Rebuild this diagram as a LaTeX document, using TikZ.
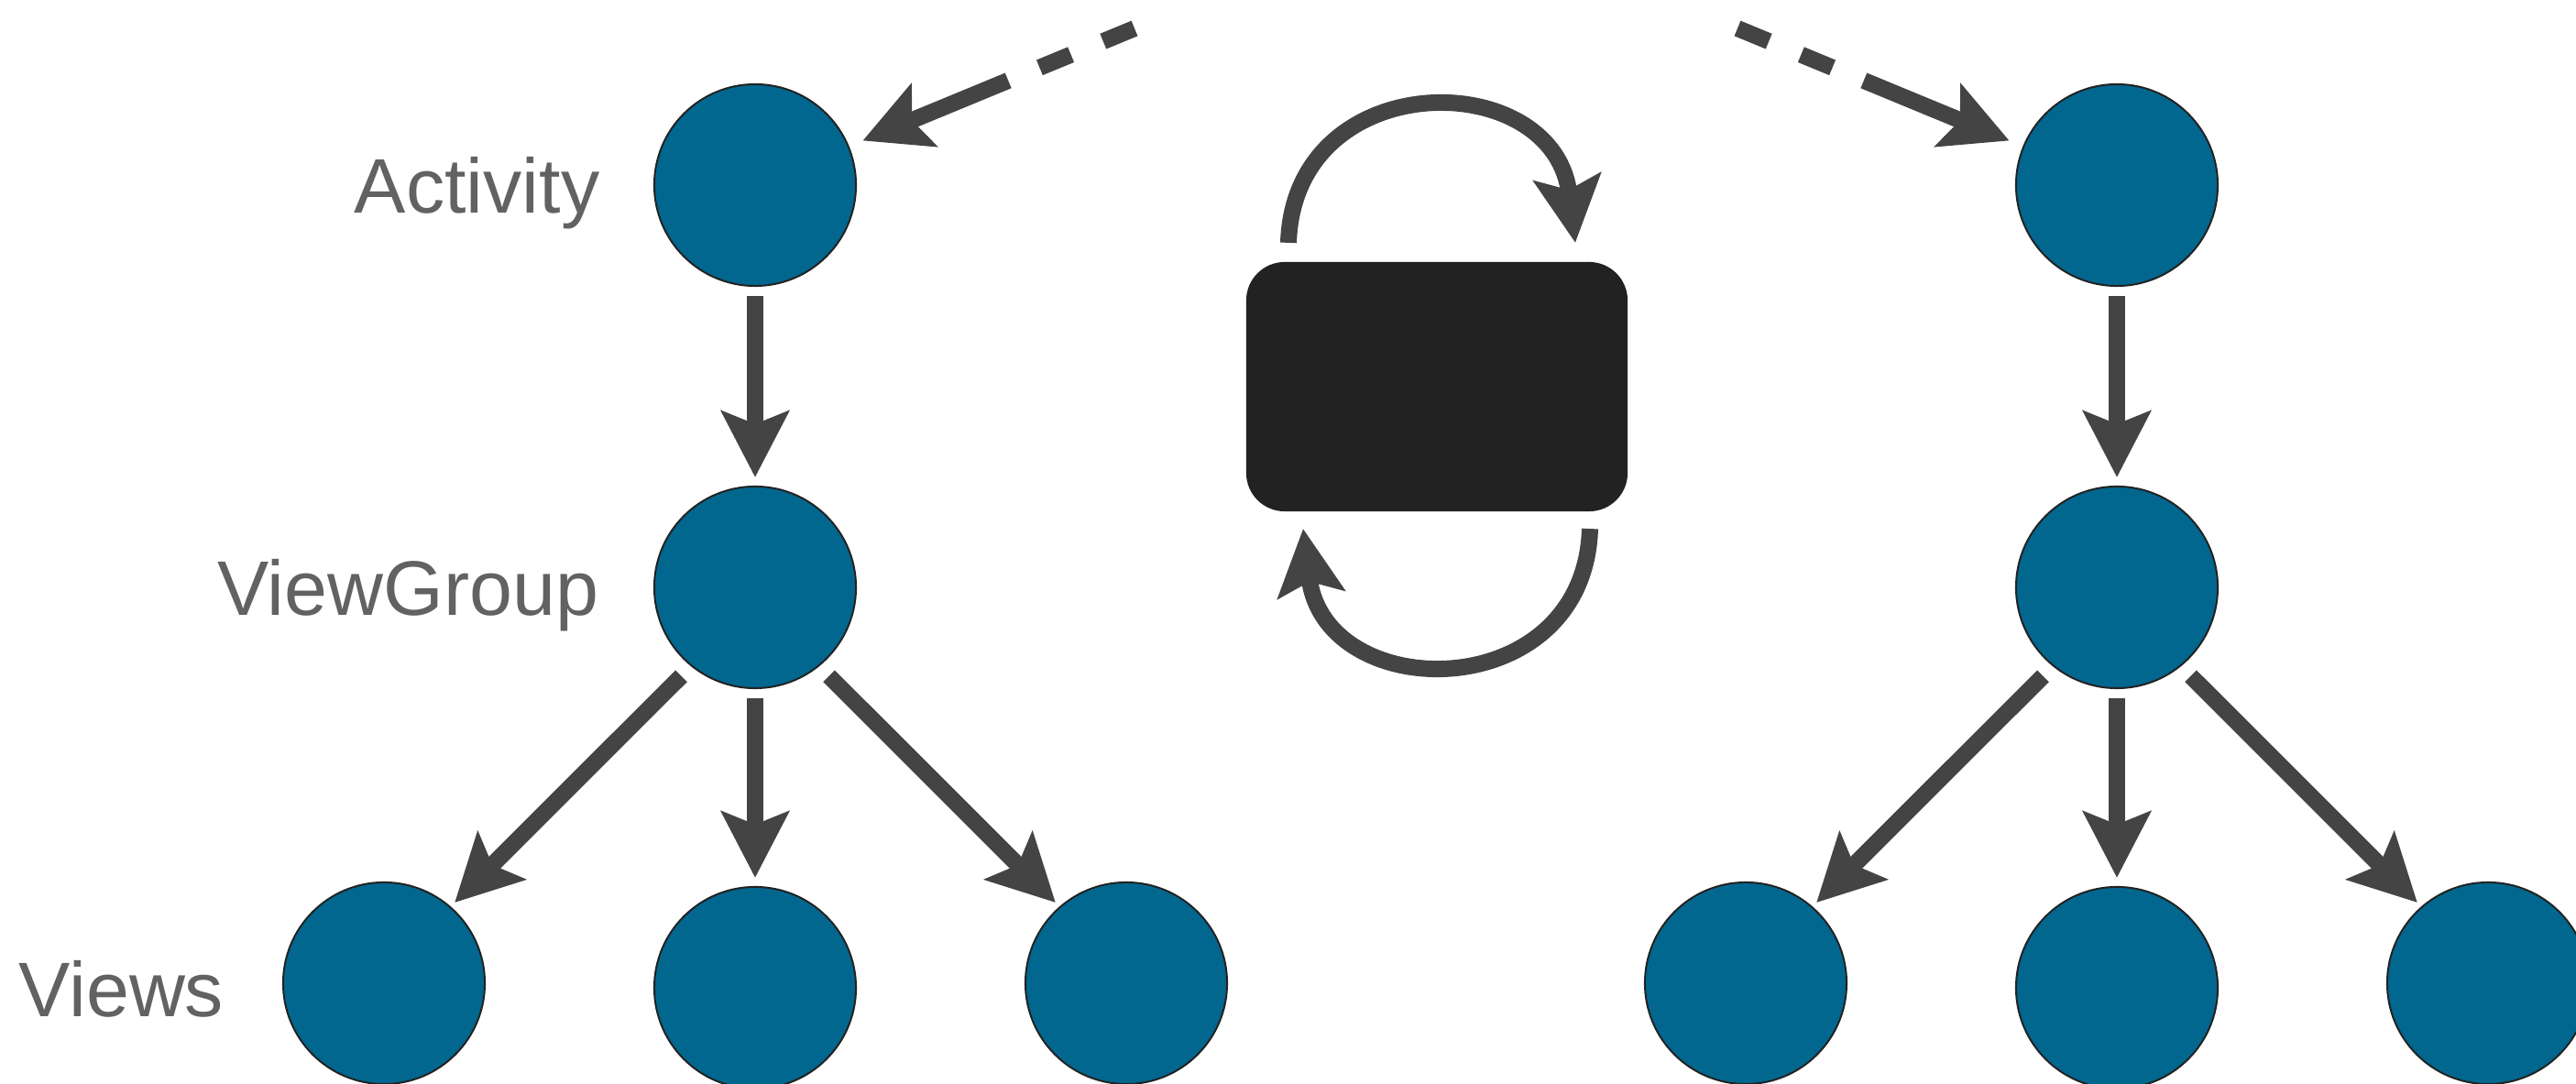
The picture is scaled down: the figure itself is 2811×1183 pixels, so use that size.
\documentclass[tikz,border=0pt]{standalone}
\usepackage{fontspec}
\setmainfont{Liberation Sans}
\usepackage{xcolor}
\definecolor{NodeBlue}{RGB}{2,103,143}
\definecolor{RimBlack}{RGB}{34,34,34}
\definecolor{EdgeGray}{RGB}{68,68,68}
\definecolor{LabelGray}{RGB}{98,98,98}
\definecolor{BoxBlack}{RGB}{34,34,34}
\usepackage{tikz}
\usetikzlibrary{
    arrows.meta,
    positioning
}

\tikzset{
    unit/.style={
        circle,
        fill=NodeBlue,
        draw=RimBlack,
        line width=0.02cm,
        minimum size=2.2cm,
        inner sep=0pt,
        outer sep=0pt
    },
    slab/.style={
        rectangle,
        fill=BoxBlack,
        rounded corners=0.42cm,
        minimum width=4.16cm,
        minimum height=2.72cm,
        inner sep=0pt,
        outer sep=0pt
    },
    tag/.style={
        text=LabelGray,
        font=\fontsize{24pt}{28pt}\selectfont,
        inner sep=0pt,
        text height=0.61cm,
        text depth=0pt
    },
    link/.style={
        -{Stealth[length=0.72cm,width=0.73cm,inset=0.14cm]},
        EdgeGray,
        line width=0.18cm,
        shorten <=0.11cm,
        shorten >=0.10cm
    },
    branch/.style={
        link,
        shorten <=0.16cm,
        shorten >=0.07cm
    },
    handoff/.style={
        link,
        shorten <=0pt,
        shorten >=0.17cm,
        dash pattern=on 0.37cm off 0.38cm on 0.37cm off 0.37cm on 10cm off 1cm
    },
    turn/.style={
        link,
        shorten <=0pt,
        shorten >=0pt
    }
}

\begin{document}
\begin{tikzpicture}[x=0.01cm,y=0.01cm]
%
    \useasboundingbox (0,0) rectangle (2811,-1183);
%
    % Left hierarchy
%
    \node[unit] (act-l) at (824,-202) {};
    \node[unit] (grp-l) at (824,-641) {};
    \node[unit] (view-l1) at (419,-1073) {};
    \node[unit] (view-l2) at (824,-1078) {};
    \node[unit] (view-l3) at (1229,-1073) {};
%
    \node[tag, left=0.59cm of act-l] (act-tag) {Activity};
    \node[tag, left=0.60cm of grp-l] (grp-tag) {ViewGroup};
    \node[
        tag,
        left=0.64cm of view-l1,
        yshift=-0.06cm
    ] (views-tag) {Views};
%
    \draw[link] (act-l) -- (grp-l);
    \draw[branch] (grp-l.231) -- (view-l1.49);
    \draw[link] (grp-l) -- (view-l2);
    \draw[branch] (grp-l.-51) -- (view-l3.131);
%
    \coordinate (src-l) at (1238,-31);
    \draw[handoff] (src-l) -- (act-l);
%
    % Right hierarchy
%
    \node[unit] (act-r) at (2310,-202) {};
    \node[unit] (grp-r) at (2310,-641) {};
    \node[unit] (view-r1) at (1905,-1073) {};
    \node[unit] (view-r2) at (2310,-1078) {};
    \node[unit] (view-r3) at (2715,-1073) {};
%
    \draw[link] (act-r) -- (grp-r);
    \draw[branch] (grp-r.231) -- (view-r1.49);
    \draw[link] (grp-r) -- (view-r2);
    \draw[branch] (grp-r.-51) -- (view-r3.131);
%
    \coordinate (src-r) at (1896,-31);
    \draw[handoff] (src-r) -- (act-r);
%
    % Middle box with its two loops
%
    \node[slab] (ctx) at (1568,-422) {};
%
    \draw[turn]
    ([shift={(-162,21)}]ctx.north)
    .. controls +(6,194) and +(-24,194) ..
    ([shift={(151,21)}]ctx.north);
%
    \draw[turn]
    ([shift={(167,-19)}]ctx.south)
    .. controls +(-6,-194) and +(24,-194) ..
    ([shift={(-146,-19)}]ctx.south);
%
\end{tikzpicture}
\end{document}
